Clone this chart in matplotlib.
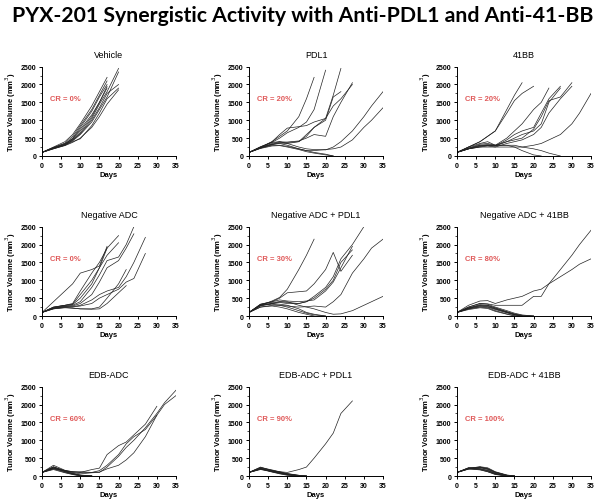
import matplotlib
matplotlib.use('Agg')
import matplotlib.pyplot as plt
from matplotlib.ticker import MultipleLocator

# measurement days shared by every mouse (each curve stops when the mouse leaves the study)
days = [0, 3, 6, 8, 10, 13, 15, 17, 20, 22, 24, 27, 30, 32, 35]

vehicle = [
    [100, 250, 400, 600, 900, 1400, 1800, 2200],
    [100, 230, 360, 550, 850, 1300, 1700, 2100],
    [100, 220, 330, 500, 800, 1250, 1650, 2000],
    [100, 240, 350, 480, 750, 1150, 1500, 1900],
    [100, 220, 300, 450, 650, 1050, 1450, 1800, 2450],
    [100, 210, 310, 420, 600, 950, 1300, 1650, 2350],
    [100, 200, 300, 400, 480, 850, 1200, 1600, 1900],
    [100, 200, 290, 380, 500, 800, 1100, 1450, 1850],
    [100, 230, 330, 470, 700, 1100, 1500, 1950],
    [100, 220, 320, 440, 620, 1000, 1350, 1750, 2000],
]
pdl1 = [
    [100, 250, 400, 550, 700, 1100, 1600, 2200],
    [100, 260, 380, 500, 650, 800, 950, 1300, 2400],
    [100, 230, 400, 600, 780, 820, 850, 950, 1050, 1700, 2450],
    [100, 250, 380, 400, 380, 400, 550, 800, 1000, 1650, 1800],
    [100, 240, 330, 380, 390, 420, 500, 600, 550, 1100, 1500, 2050],
    [100, 230, 320, 360, 350, 400, 600, 800, 1050, 1400, 1600, 2000],
    [100, 230, 350, 400, 350, 250, 200, 180, 170, 250, 400, 700, 1100, 1400, 1800],
    [100, 220, 320, 350, 300, 200, 150, 150, 180, 200, 250, 450, 800, 1000, 1350],
    [100, 220, 300, 300, 270, 200, 150, 100, 50, 0],
    [100, 210, 280, 290, 250, 180, 120, 80, 30, 0],
]
bb41 = [
    [100, 250, 400, 550, 700, 1300, 1700, 2050],
    [100, 250, 400, 550, 700, 1200, 1550, 1750, 1950],
    [100, 200, 280, 300, 300, 500, 700, 900, 1300, 1500, 1900],
    [100, 220, 300, 300, 280, 450, 600, 700, 800, 1200, 1600, 1950],
    [100, 200, 300, 320, 300, 400, 450, 500, 750, 1100, 1550, 1650, 2050],
    [100, 200, 250, 280, 250, 350, 400, 450, 600, 800, 1200, 1600, 1950],
    [100, 200, 250, 250, 250, 250, 250, 250, 300, 350, 450, 600, 900, 1200, 1750],
    [100, 250, 350, 400, 300, 300, 250, 150, 30, 0],
    [100, 220, 330, 350, 300, 300, 300, 250, 200, 150, 80, 0],
    [100, 200, 270, 300, 280, 400, 500, 600, 700, 900, 1500, 1900],
]
neg_adc = [
    [100, 400, 700, 900, 1200, 1300, 1400, 1950],
    [100, 250, 300, 350, 700, 1200, 1500, 1900],
    [100, 250, 300, 330, 600, 1000, 1350, 1700, 2050],
    [100, 240, 300, 320, 500, 900, 1350, 1900, 2250],
    [100, 230, 280, 300, 400, 800, 1150, 1550, 1650, 2000, 2500],
    [100, 220, 270, 280, 350, 600, 950, 1350, 1550, 1900, 2300],
    [100, 220, 260, 260, 300, 450, 600, 700, 800, 1100, 1500, 2200],
    [100, 210, 250, 250, 280, 350, 500, 600, 750, 950, 1050, 1750],
    [100, 200, 240, 220, 200, 200, 250, 500, 900, 1300],
    [100, 200, 230, 220, 200, 190, 200, 350, 650, 850],
]
neg_adc_pdl1 = [
    [100, 300, 420, 520, 750, 1300, 1700, 2150],
    [100, 330, 400, 500, 650, 680, 700, 900, 1300, 1780, 1250, 1700],
    [100, 320, 380, 400, 380, 350, 400, 550, 800, 1100, 1600, 2000, 2500],
    [100, 300, 350, 380, 350, 350, 400, 500, 750, 1000, 1500, 1850],
    [100, 330, 400, 450, 420, 400, 420, 450, 700, 950, 1350, 1950],
    [100, 300, 330, 300, 280, 250, 260, 280, 250, 400, 600, 1200, 1600, 1900, 2150],
    [100, 280, 350, 400, 400, 300, 250, 200, 100, 50, 60, 150, 300, 400, 550],
    [100, 300, 350, 330, 300, 200, 100, 50, 0],
    [100, 250, 280, 250, 200, 100, 50, 0],
    [100, 250, 300, 300, 250, 150, 80, 30, 0],
]
neg_adc_41bb = [
    [100, 300, 420, 430, 350, 450, 500, 550, 700, 750, 900, 1300, 1700, 2000, 2400],
    [100, 250, 350, 340, 300, 300, 300, 300, 550, 550, 900, 1100, 1300, 1450, 1600],
    [100, 250, 350, 330, 250, 150, 80, 30, 0],
    [100, 230, 300, 300, 220, 120, 60, 20, 0],
    [100, 220, 280, 260, 200, 100, 40, 0],
    [100, 200, 260, 250, 180, 90, 30, 0],
    [100, 200, 250, 230, 150, 60, 10, 0],
    [100, 180, 230, 210, 130, 50, 0],
    [100, 220, 320, 300, 230, 120, 50, 10, 0],
    [100, 210, 290, 280, 200, 110, 40, 0],
]
edb_adc = [
    [100, 300, 160, 120, 100, 180, 220, 600, 850, 950, 1150, 1450, 1950],
    [100, 200, 150, 100, 60, 90, 100, 250, 550, 800, 1000, 1350, 1750, 2050, 2400],
    [100, 220, 140, 110, 120, 100, 110, 200, 300, 450, 650, 1100, 1700, 2000, 2250],
    [100, 250, 150, 120, 100, 100, 150, 300, 600, 900, 1100, 1300, 1700],
    [100, 230, 120, 60, 20, 0],
    [100, 200, 100, 50, 10, 0],
    [100, 250, 150, 80, 30, 0],
    [100, 180, 90, 40, 0],
    [100, 220, 120, 70, 20, 0],
    [100, 260, 130, 60, 10, 0],
]
edb_adc_pdl1 = [
    [100, 250, 150, 120, 100, 180, 250, 500, 900, 1200, 1750, 2100],
    [100, 220, 150, 100, 60, 20, 0],
    [100, 200, 120, 80, 40, 0],
    [100, 230, 160, 110, 60, 10, 0],
    [100, 180, 130, 90, 50, 0],
    [100, 200, 140, 100, 50, 10, 0],
    [100, 210, 120, 70, 30, 0],
    [100, 240, 170, 120, 70, 20, 0],
    [100, 190, 110, 60, 20, 0],
    [100, 200, 130, 80, 40, 5, 0],
]
edb_adc_41bb = [
    [100, 200, 250, 200, 100, 20, 0],
    [100, 220, 240, 180, 80, 10, 0],
    [100, 230, 200, 150, 60, 0],
    [100, 200, 180, 120, 50, 0],
    [100, 210, 260, 230, 120, 30, 0],
    [100, 190, 230, 200, 100, 20, 0],
    [100, 220, 210, 160, 70, 10, 0],
    [100, 200, 170, 120, 40, 0],
    [100, 230, 250, 210, 110, 20, 0],
    [100, 210, 190, 140, 60, 0],
]

titles = ['Vehicle', 'PDL1', '41BB',
          'Negative ADC', 'Negative ADC + PDL1', 'Negative ADC + 41BB',
          'EDB-ADC', 'EDB-ADC + PDL1', 'EDB-ADC + 41BB']
cr_labels = ['CR = 0%', 'CR = 20%', 'CR = 20%',
             'CR = 0%', 'CR = 30%', 'CR = 80%',
             'CR = 60%', 'CR = 90%', 'CR = 100%']
groups = [vehicle, pdl1, bb41, neg_adc, neg_adc_pdl1, neg_adc_41bb,
          edb_adc, edb_adc_pdl1, edb_adc_41bb]

plt.rcParams['font.family'] = 'Liberation Sans'
fig = plt.figure(figsize=(6.05, 5.02), dpi=100)
fig.text(0.5, 0.968, 'PYX-201 Synergistic Activity with Anti-PDL1 and Anti-41-BB',
         ha='center', va='center', fontsize=15.3, fontweight='bold', family='Lato')

lefts = [0.0694, 0.4116, 0.7554]
bottoms = [0.6873, 0.3685, 0.0498]
w, h = 0.2215, 0.178

for i, (mice, title, cr) in enumerate(zip(groups, titles, cr_labels)):
    ax = fig.add_axes([lefts[i % 3], bottoms[i // 3], w, h])
    for vols in mice:
        ax.plot(days[:len(vols)], vols, color='#222222', lw=0.5)
    ax.set_xlim(0, 35)
    ax.set_ylim(0, 2500)
    ax.xaxis.set_major_locator(MultipleLocator(5))
    ax.yaxis.set_major_locator(MultipleLocator(500))
    ax.yaxis.set_minor_locator(MultipleLocator(250))
    ax.spines['top'].set_visible(False)
    ax.spines['right'].set_visible(False)
    ax.spines['left'].set_linewidth(0.7)
    ax.spines['bottom'].set_linewidth(0.7)
    ax.tick_params(which='major', length=2.5, width=0.7, labelsize=5, pad=1.5)
    ax.tick_params(which='minor', length=1.5, width=0.5)
    for lab in ax.get_xticklabels() + ax.get_yticklabels():
        lab.set_fontweight('bold')
    ax.set_title(title, fontsize=6.5, pad=7)
    ax.set_xlabel('Days', fontsize=5.5, fontweight='bold', labelpad=2)
    ax.set_ylabel('Tumor Volume (mm$^3$)', fontsize=5.5, fontweight='bold', labelpad=2)
    ax.text(2, 1600, cr, color='#e05a5a', fontsize=5.5, fontweight='bold', va='center')

fig.savefig('out.png', dpi=100)
